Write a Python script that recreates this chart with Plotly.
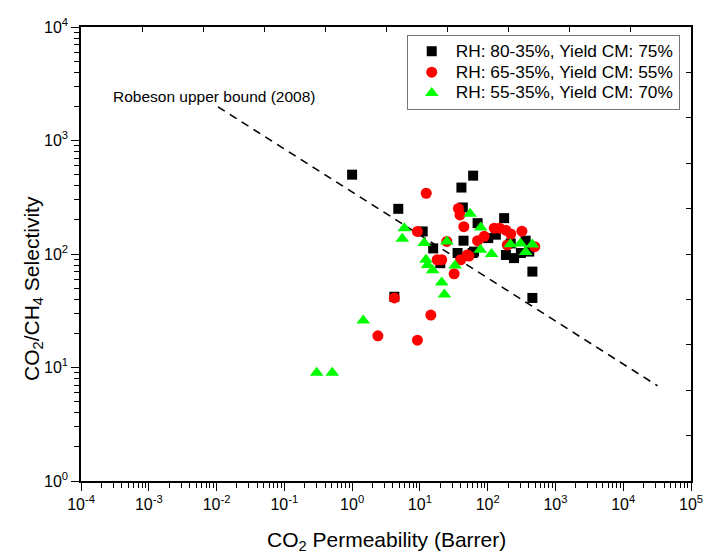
import plotly.graph_objects as go

# ---- data ----
black_x = [1.0, 4.8, 4.2, 11, 15.7, 20, 36, 41, 43, 61, 44, 71, 60, 63, 102, 132, 175, 186, 245, 309, 363, 411, 457, 457, 219]
black_y = [500, 250, 42, 158, 112, 83, 102, 385, 257, 490, 131, 187, 102, 105, 138, 148, 207, 98, 92, 102, 131, 105, 70, 41, 124]

red_x = [12.4, 37, 39, 44.5, 9.2, 25, 18, 21, 32, 40, 53, 71, 89, 125, 150, 185, 219, 320, 195, 495, 4.2, 14.5, 2.4, 9.2, 50]
red_y = [343, 252, 221, 174, 158, 129, 89, 89, 67, 89, 96, 131, 143, 169, 169, 162, 150, 159, 120, 116, 41, 29, 19, 17.4, 98]

green_x = [55, 79, 5.9, 5.5, 11.6, 25, 12.3, 13, 15.4, 21, 23, 33, 78, 114, 216, 305, 457, 363, 1.46, 0.30, 0.51]
green_y = [226, 171, 169, 136, 125, 129, 89, 80, 72, 56, 44, 79, 109, 100, 122, 124, 121, 104, 26, 9.0, 9.0]

robeson_x = [0.0105, 32000]
robeson_y = [1980, 6.9]

series_names = ["RH: 80-35%, Yield CM: 75%", "RH: 65-35%, Yield CM: 55%", "RH: 55-35%, Yield CM: 70%"]
x_tick_vals = [1e-4, 1e-3, 1e-2, 1e-1, 1e0, 1e1, 1e2, 1e3, 1e4, 1e5]
x_tick_text = ["10<sup>-4</sup>", "10<sup>-3</sup>", "10<sup>-2</sup>", "10<sup>-1</sup>", "10<sup>0</sup>",
               "10<sup>1</sup>", "10<sup>2</sup>", "10<sup>3</sup>", "10<sup>4</sup>", "10<sup>5</sup>"]
y_tick_vals = [1, 10, 100, 1000, 10000]
y_tick_text = ["10<sup>0</sup>", "10<sup>1</sup>", "10<sup>2</sup>", "10<sup>3</sup>", "10<sup>4</sup>"]

FONT = "Liberation Sans, Arial, sans-serif"


def legend_label(name):
    return '<span style="font-size:17.3px">' + name + "</span>"


fig = go.Figure()

fig.add_trace(go.Scatter(x=robeson_x, y=robeson_y, mode="lines",
                         line=dict(color="black", width=1.6, dash="8px,6px"),
                         showlegend=False, hoverinfo="skip"))

fig.add_trace(go.Scatter(x=black_x, y=black_y, mode="markers", name=legend_label(series_names[0]),
                         marker=dict(symbol="square", size=10, color="black", line=dict(width=0))))
fig.add_trace(go.Scatter(x=red_x, y=red_y, mode="markers", name=legend_label(series_names[1]),
                         marker=dict(symbol="circle", size=11, color="#FF0000", line=dict(width=0))))
fig.add_trace(go.Scatter(x=green_x, y=green_y, mode="markers", name=legend_label(series_names[2]),
                         marker=dict(symbol="triangle-up", size=12, color="#00FF00", line=dict(width=0))))

# invisible trace to carry the top/right frame axes
fig.add_trace(go.Scatter(x=[0, 10], y=[0, 10], xaxis="x2", yaxis="y2", mode="markers",
                         marker=dict(opacity=0), showlegend=False, hoverinfo="skip"))

axis_common = dict(showgrid=False, zeroline=False, showline=True, linecolor="black", linewidth=1.5,
                   ticks="outside", ticklen=8, tickwidth=1, tickcolor="black",
                   tickfont=dict(family=FONT, size=16, color="black"), mirror=True)

fig.update_layout(
    width=705, height=554,
    margin=dict(l=81, r=14, t=27, b=73, autoexpand=False),
    plot_bgcolor="white", paper_bgcolor="white",
    font=dict(family=FONT, color="black"),
    xaxis=dict(type="log", range=[-4, 5], tickmode="array", tickvals=x_tick_vals, ticktext=x_tick_text,
               minor=dict(ticks="outside", ticklen=5, tickwidth=1, tickcolor="black", dtick="D1", showgrid=False),
               **axis_common),
    yaxis=dict(type="log", range=[0, 4], tickmode="array", tickvals=y_tick_vals, ticktext=y_tick_text,
               minor=dict(ticks="outside", ticklen=5, tickwidth=1, tickcolor="black", dtick="D1", showgrid=False),
               **axis_common),
    xaxis2=dict(overlaying="x", side="top", range=[0, 10], dtick=1, ticks="inside", ticklen=5,
                tickcolor="black", showticklabels=False, showgrid=False, zeroline=False, showline=False),
    yaxis2=dict(overlaying="y", side="right", range=[0, 10], dtick=1, ticks="inside", ticklen=5,
                tickcolor="black", showticklabels=False, showgrid=False, zeroline=False, showline=False),
    legend=dict(x=0.534, y=0.983, xanchor="left", yanchor="top", bgcolor="white",
                bordercolor="#777777", borderwidth=1, font=dict(family=FONT, size=13.8, color="black"),
                tracegroupgap=0, itemwidth=38),
    showlegend=True,
)

fig.add_annotation(text="Robeson upper bound (2008)", xref="paper", yref="paper", x=0.049, y=0.846,
                   xanchor="left", yanchor="middle", showarrow=False,
                   font=dict(family=FONT, size=15.5, color="black"))
fig.add_annotation(text="CO<sub>2</sub> Permeability (Barrer)", xref="paper", yref="paper",
                   x=(386.5 - 81) / 610, y=(481 - 541) / 454, xanchor="center", yanchor="middle",
                   showarrow=False, font=dict(family=FONT, size=21, color="black"))
fig.add_annotation(text="CO<sub>2</sub>/CH<sub>4</sub> Selectivity", xref="paper", yref="paper",
                   x=(33 - 81) / 610, y=(481 - 288) / 454, xanchor="center", yanchor="middle",
                   textangle=-90, showarrow=False, font=dict(family=FONT, size=21, color="black"))

fig.write_html("out.html")
